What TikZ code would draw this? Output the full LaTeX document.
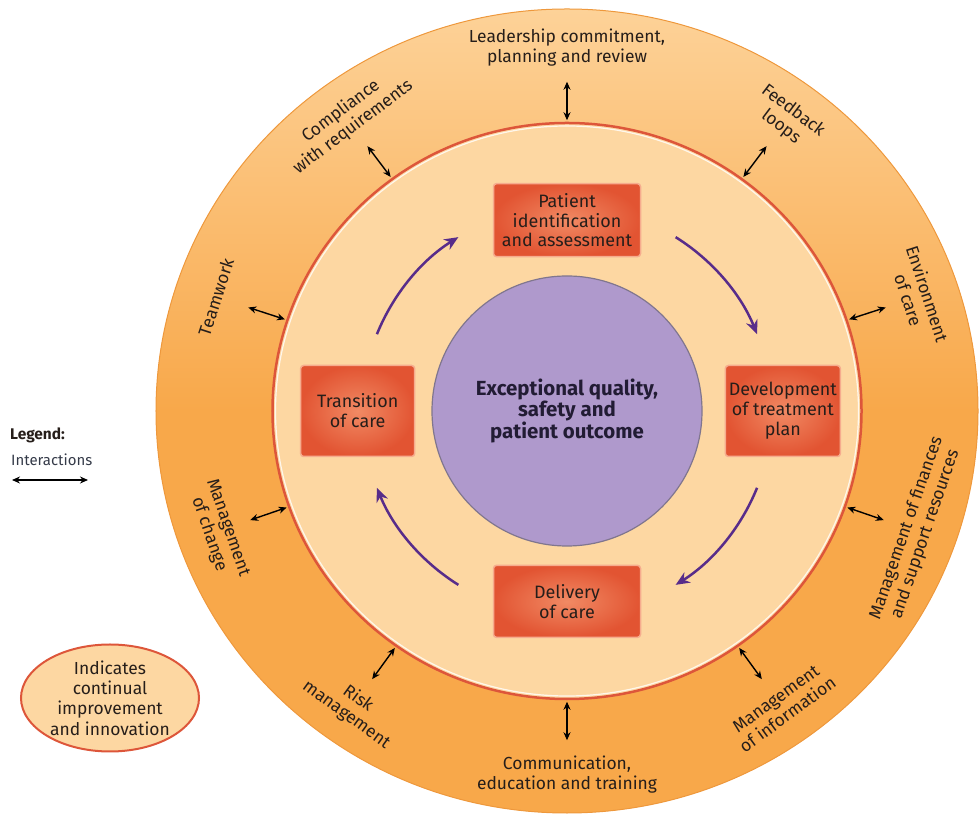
\documentclass[tikz,border=0pt]{standalone}
\usepackage{fontspec}
\setmainfont{Fira Sans}
\usepackage{tikz}
\usetikzlibrary{positioning,calc,shapes.geometric,arrows.meta}
\definecolor{ringlight}{RGB}{253,210,152}
\definecolor{ringorange}{RGB}{248,168,74}
\definecolor{ringedge}{RGB}{238,152,60}
\definecolor{peach}{RGB}{253,215,162}
\definecolor{ringred}{RGB}{221,86,58}
\definecolor{boxred}{RGB}{226,84,50}
\definecolor{boxlight}{RGB}{241,138,100}
\definecolor{boxedge}{RGB}{246,172,142}
\definecolor{corefill}{RGB}{175,153,204}
\definecolor{coreedge}{RGB}{128,118,142}
\definecolor{cyclepurple}{RGB}{88,44,138}
\definecolor{inkdark}{RGB}{38,30,26}
\definecolor{inknavy}{RGB}{34,28,52}
\definecolor{inkslate}{RGB}{52,58,72}
\tikzstyle{interaction} = [line width=1.4bp,{Stealth[length=8bp,width=7bp]}-{Stealth[length=8bp,width=7bp]}]
\tikzstyle{cyclearrow} = [line width=2.5bp,cyclepurple,-{Stealth[length=14bp,width=12bp]}]

\begin{document}
\begin{tikzpicture}[x=1bp,y=1bp,
  stage/.style={rectangle, draw=boxedge, line width=1.5bp, rounded corners=3bp, inner color=boxlight, outer color=boxred, align=center, text=inkdark, inner sep=0pt, font=\fontsize{18}{20}\selectfont},
  factor/.style={align=center, text=inkdark, inner sep=0pt, font=\fontsize{17.5}{20}\selectfont}]
  \useasboundingbox (0,0) rectangle (980,818);

  % RINGS
  \coordinate (c) at (567,407);
  \node[ellipse, minimum width=822bp, minimum height=804bp, inner sep=0pt, draw=ringedge, line width=1bp, top color=ringlight, bottom color=ringorange, middle color=ringorange] (outer) at (c) {};
  \node[ellipse, minimum width=589bp, minimum height=576bp, inner sep=0pt, fill=peach, draw=ringred, line width=2.5bp] (ring) at (c) {};
  \draw[white, line width=1.2bp, opacity=0.8] (c) ellipse (291.5 and 285);

  % CENTRE AND STAGES
  \node[circle, minimum size=270bp, inner sep=0pt, fill=corefill, draw=coreedge, line width=1.2bp, align=center, text=inknavy, font=\bfseries\fontsize{20.5}{21}\selectfont] (core) at (c) {Exceptional quality,\\safety and\\patient outcome};

  \node[stage, minimum width=147bp, minimum height=73bp, above=18bp of core] (patient) {Patient\\identification\\and assessment};
  \node[stage, minimum width=115bp, minimum height=91bp, right=22bp of core] (development) {Development\\of treatment\\plan};
  \node[stage, minimum width=147bp, minimum height=72bp, below=18bp of core] (delivery) {Delivery\\of care};
  \node[stage, minimum width=114bp, minimum height=91bp, left=16bp of core] (transition) {Transition\\of care};

  % CYCLE
  \foreach \s in {158,58,-22,-122} {
    \coordinate (cyc\s) at ($(c)+(\s:205)$);
    \draw[cyclearrow] (cyc\s) arc[start angle=\s, end angle=\s-36, radius=205];
  }

  % INTERACTIONS
  \foreach \ang/\rot/\txt in {
      90/0/{Leadership commitment,\\planning and review},
      127/37/{Compliance\\with requirements},
      162/72/{Teamwork},
      199/289/{Management\\of change},
      234/324/{Risk\\management},
      270/0/{Communication,\\education and training},
      306/36/{Management\\of information},
      341/71/{Management of finances\\and support resources},
      18/-72/{Environment\\of care},
      53/-37/{Feedback\\loops}} {
    \coordinate (tip\ang) at ($(ring.\ang)+(\ang:40)$);
    \draw[interaction, shorten <=1.5bp] (ring.\ang) -- (tip\ang);
    \node[factor, rotate=\rot] (factor\ang) at ($(ring.\ang)+(\ang:74)$) {\txt};
  }

  % LEGEND
  \node[anchor=west, inner sep=0pt, text=inkdark, font=\bfseries\fontsize{15.5}{18}\selectfont] (legend) at (10,383) {Legend:};
  \node[anchor=west, inner sep=0pt, text=inkslate, font=\fontsize{15}{18}\selectfont] (interlabel) at ($(legend.west)+(1,-25)$) {Interactions};
  \coordinate (legA) at (12,338);
  \coordinate (legB) at (88,338);
  \draw[interaction] (legA) -- (legB);

  \node[ellipse, minimum width=178bp, minimum height=107bp, inner sep=0pt, fill=peach, draw=ringred, line width=2bp, align=center, text=inkdark, font=\fontsize{17.5}{20.5}\selectfont] (improve) at (110,120) {Indicates\\continual\\improvement\\and innovation};
\end{tikzpicture}
\end{document}
